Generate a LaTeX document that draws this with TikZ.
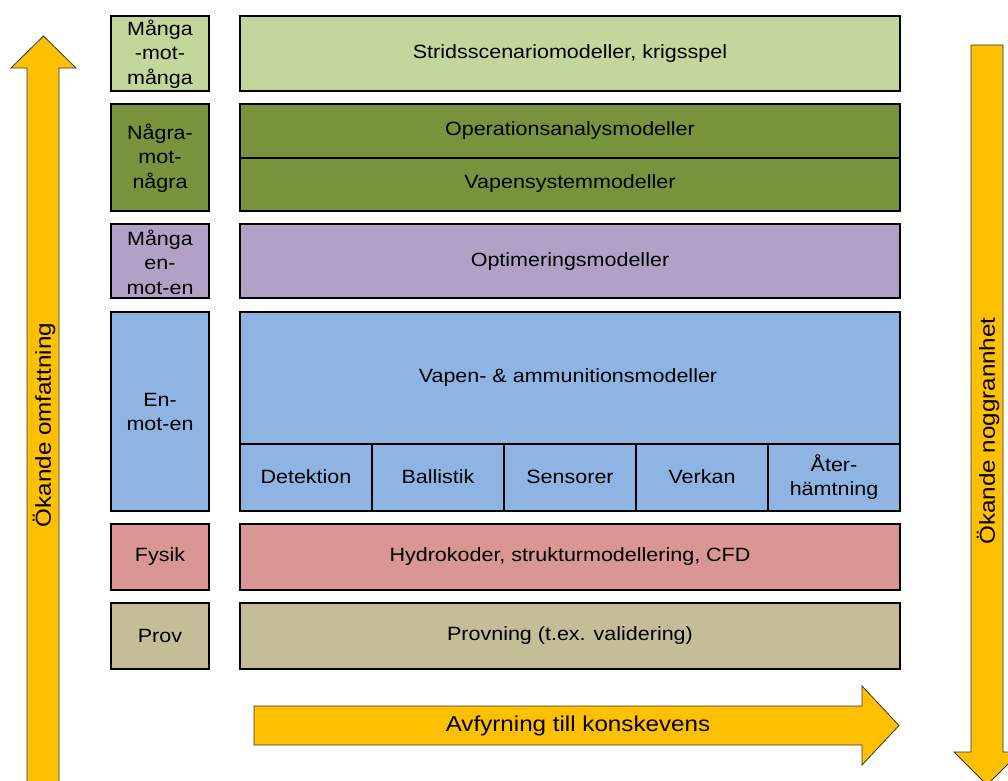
\documentclass[tikz,border=0pt]{standalone}
\usepackage{fontspec}
\setmainfont{Liberation Sans}[FakeStretch=1.12]
\definecolor{mangaGreen}{HTML}{C3D69B}
\definecolor{nagraGreen}{HTML}{77933C}
\definecolor{optPurple}{HTML}{B2A1C7}
\definecolor{vapenBlue}{HTML}{8EB4E3}
\definecolor{fysikRed}{HTML}{D99694}
\definecolor{provTan}{HTML}{C4BD97}
\definecolor{arrowGold}{HTML}{FFC000}
\tikzset{
  box/.style={draw=black, line width=1.5pt},
  split/.style={draw=black, line width=0.9pt},
  bigarrow/.style={fill=arrowGold, draw=black!80, line width=0.6pt},
  lbl/.style={align=center, inner sep=0pt, font=\fontsize{14.4}{18.4}\selectfont},
  arrowlbl/.style={inner sep=0pt, font=\fontsize{16.2}{19}\selectfont}
}

\begin{document}
\begin{tikzpicture}[x=0.75pt, y=-0.75pt]
  \useasboundingbox (0,0) rectangle (1008,781);
  % arrows
  \draw[bigarrow] (27,790) -- (27,68) -- (11,68) -- (43.5,36) -- (76,68) -- (59,68) -- (59,790);
  \node[arrowlbl, rotate=90] (omfattning) at (44,425) {Ökande omfattning};
  \draw[bigarrow] (971,45) -- (1003,45) -- (1003,752) -- (1020,752) -- (987,785) -- (954,752) -- (971,752) -- cycle;
  \node[arrowlbl, rotate=90] (noggrannhet) at (988,431) {Ökande noggrannhet};
  \draw[bigarrow] (254,706) -- (862,706) -- (862,686) -- (899,725.5) -- (862,765) -- (862,745) -- (254,745) -- cycle;
  \node[arrowlbl] (avfyrning) at (578,726) {Avfyrning till konskevens};

  % left column
  \draw[box, fill=mangaGreen] (111,16) rectangle (209,91);
  \draw[box, fill=nagraGreen] (111,104) rectangle (209,211);
  \draw[box, fill=optPurple] (111,224) rectangle (209,298);
  \draw[box, fill=vapenBlue] (111,312) rectangle (209,511);
  \draw[box, fill=fysikRed] (111,524) rectangle (209,590);
  \draw[box, fill=provTan] (111,603) rectangle (209,669);
  \node[lbl] (mangamot) at (160,54) {Många\\-mot-\\många};
  \node[lbl] (nagramot) at (160,158) {Några-\\mot-\\några};
  \node[lbl] (mangaen) at (160,262) {Många\\en-\\mot-en};
  \node[lbl] (enmot) at (160,412) {En-\\mot-en};
  \node[lbl] (fysik) at (160,557) {Fysik};
  \node[lbl] (prov) at (160,636) {Prov};

  % right column
  \draw[box, fill=mangaGreen] (240,16) rectangle (900,91);
  \draw[box, fill=nagraGreen] (240,104) rectangle (900,211);
  \draw[split] (240,158) -- (900,158);
  \draw[box, fill=optPurple] (240,224) rectangle (900,298);
  \draw[box, fill=vapenBlue] (240,312) rectangle (900,511);
  \draw[split] (240,444) -- (900,444);
  \foreach \x in {372,504,636,768}
    \draw[split] (\x,444) -- (\x,511);
  \draw[box, fill=fysikRed] (240,524) rectangle (900,590);
  \draw[box, fill=provTan] (240,603) rectangle (900,669);
  \node[lbl] (strid) at (570,54) {Stridsscenariomodeller, krigsspel};
  \node[lbl] (opanalys) at (570,131) {Operationsanalysmodeller};
  \node[lbl] (vapensys) at (570,184) {Vapensystemmodeller};
  \node[lbl] (optimering) at (570,262) {Optimeringsmodeller};
  \node[lbl] (ammunition) at (568,378) {Vapen- \& ammunitionsmodeller};
  \node[lbl] (detektion) at (306,477) {Detektion};
  \node[lbl] (ballistik) at (438,477) {Ballistik};
  \node[lbl] (sensorer) at (570,477) {Sensorer};
  \node[lbl] (verkan) at (702,477) {Verkan};
  \node[lbl] (aterhamt) at (834,477) {Åter-\\hämtning};
  \node[lbl] (hydro) at (570,557) {Hydrokoder, strukturmodellering, CFD};
  \node[lbl] (provning) at (570,636) {Provning (t.ex. validering)};
\end{tikzpicture}
\end{document}
